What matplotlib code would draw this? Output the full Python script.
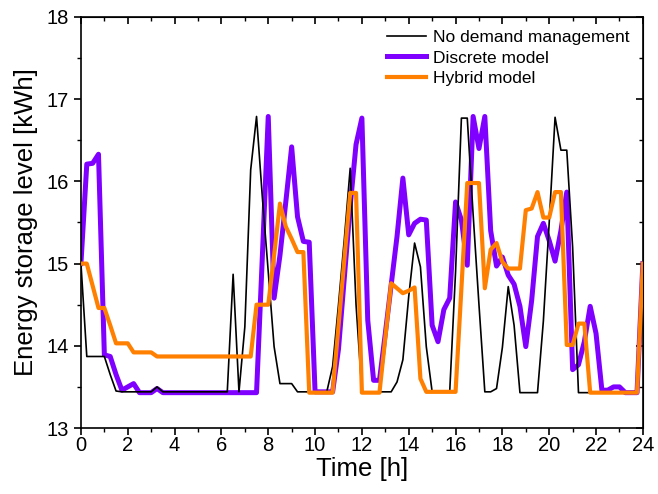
import numpy as np
import matplotlib
matplotlib.use("Agg")
import matplotlib.pyplot as plt
from matplotlib.ticker import MultipleLocator

# time axis: 15-minute steps over 24 h
time_h = np.arange(0, 24.001, 0.25)

no_dm = [
    15.00, 13.87, 13.87, 13.87, 13.87, 13.65, 13.45, 13.44,   # 0 - 1.75
    13.44, 13.44, 13.44, 13.44, 13.44, 13.50, 13.44, 13.44,   # 2 - 3.75
    13.44, 13.44, 13.44, 13.44, 13.44, 13.44, 13.44, 13.44,   # 4 - 5.75
    13.44, 13.44, 14.87, 13.44, 14.23, 16.14, 16.79, 15.80,   # 6 - 7.75
    14.90, 13.99, 13.54, 13.54, 13.54, 13.44, 13.44, 13.44,   # 8 - 9.75
    13.44, 13.44, 13.44, 13.75, 14.50, 15.30, 16.16, 14.50,   # 10 - 11.75
    13.44, 13.44, 13.44, 13.44, 13.44, 13.44, 13.56, 13.83,   # 12 - 13.75
    14.60, 15.25, 14.96, 13.99, 13.44, 13.44, 13.44, 13.44,   # 14 - 15.75
    14.90, 16.77, 16.77, 15.60, 14.50, 13.44, 13.44, 13.48,   # 16 - 17.75
    13.98, 14.72, 14.25, 13.43, 13.43, 13.43, 13.43, 14.30,   # 18 - 19.75
    15.50, 16.78, 16.38, 16.38, 15.20, 13.43, 13.43, 13.43,   # 20 - 21.75
    13.43, 13.43, 13.43, 13.43, 13.43, 13.43, 13.43, 13.43,   # 22 - 23.75
    15.00,
]

discrete = [
    15.00, 16.21, 16.22, 16.33, 13.89, 13.87, 13.65, 13.46,   # 0 - 1.75
    13.50, 13.54, 13.43, 13.43, 13.43, 13.48, 13.43, 13.43,   # 2 - 3.75
    13.43, 13.43, 13.43, 13.43, 13.43, 13.43, 13.43, 13.43,   # 4 - 5.75
    13.43, 13.43, 13.43, 13.43, 13.43, 13.43, 13.43, 15.10,   # 6 - 7.75
    16.79, 14.58, 15.10, 15.75, 16.42, 15.57, 15.27, 15.26,   # 8 - 9.75
    13.44, 13.44, 13.44, 13.44, 13.96, 14.83, 15.70, 16.45,   # 10 - 11.75
    16.77, 14.31, 13.58, 13.58, 14.15, 14.74, 15.33, 16.04,   # 12 - 13.75
    15.35, 15.49, 15.54, 15.53, 14.25, 14.05, 14.44, 14.58,   # 14 - 15.75
    15.75, 15.53, 14.98, 16.79, 16.40, 16.79, 15.40, 14.97,   # 16 - 17.75
    15.08, 14.86, 14.75, 14.48, 13.99, 14.55, 15.33, 15.49,   # 18 - 19.75
    15.28, 15.03, 15.40, 15.87, 13.71, 13.77, 14.05, 14.48,   # 20 - 21.75
    14.15, 13.46, 13.46, 13.50, 13.50, 13.43, 13.43, 13.43,   # 22 - 23.75
    15.00,
]

hybrid = [
    15.00, 15.00, 14.73, 14.46, 14.46, 14.25, 14.03, 14.03,   # 0 - 1.75
    14.03, 13.92, 13.92, 13.92, 13.92, 13.87, 13.87, 13.87,   # 2 - 3.75
    13.87, 13.87, 13.87, 13.87, 13.87, 13.87, 13.87, 13.87,   # 4 - 5.75
    13.87, 13.87, 13.87, 13.87, 13.87, 13.87, 14.50, 14.50,   # 6 - 7.75
    14.50, 15.10, 15.73, 15.45, 15.30, 15.14, 15.14, 13.43,   # 8 - 9.75
    13.43, 13.43, 13.43, 13.43, 14.24, 15.05, 15.86, 15.86,   # 10 - 11.75
    13.43, 13.43, 13.43, 13.43, 14.10, 14.76, 14.70, 14.64,   # 12 - 13.75
    14.67, 14.71, 13.60, 13.44, 13.44, 13.44, 13.44, 13.44,   # 14 - 15.75
    13.44, 14.70, 15.98, 15.98, 15.98, 14.70, 15.17, 15.25,   # 16 - 17.75
    15.02, 14.94, 14.94, 14.94, 15.65, 15.67, 15.87, 15.56,   # 18 - 19.75
    15.56, 15.87, 15.87, 14.01, 14.01, 14.27, 14.27, 13.43,   # 20 - 21.75
    13.43, 13.43, 13.43, 13.43, 13.43, 13.43, 13.43, 13.43,   # 22 - 23.75
    15.00,
]

labels = ["No demand management", "Discrete model", "Hybrid model"]
x_ticks = list(range(0, 25, 2))
y_ticks = [13, 14, 15, 16, 17, 18]

plt.rcParams['font.family'] = ['Liberation Sans', 'DejaVu Sans']

fig = plt.figure(figsize=(6.58, 4.94), dpi=100)
ax = fig.add_axes([0.123, 0.1336, 0.854, 0.832])

ax.plot(time_h, no_dm, color="black", lw=1.2, label=labels[0], zorder=3)
ax.plot(time_h, discrete, color="#8000FF", lw=3.6, label=labels[1], zorder=2)
ax.plot(time_h, hybrid, color="#FF8000", lw=3.0, label=labels[2], zorder=4)

ax.set_xlim(0, 24)
ax.set_ylim(13, 18)
ax.set_xticks(x_ticks)
ax.set_yticks(y_ticks)
ax.xaxis.set_minor_locator(MultipleLocator(1))
ax.yaxis.set_minor_locator(MultipleLocator(0.5))
ax.tick_params(which='major', direction='out', length=5, width=1.2, labelsize=14.5)
ax.tick_params(which='minor', direction='out', length=3, width=1.0)
ax.tick_params(axis='x', which='major', pad=1)

for s in ax.spines.values():
    s.set_linewidth(1.2)

secx = ax.secondary_xaxis('top')
secx.set_xticks(x_ticks)
secx.xaxis.set_minor_locator(MultipleLocator(1))
secx.tick_params(which='major', direction='in', length=5, width=1.2, labeltop=False)
secx.tick_params(which='minor', direction='in', length=3, width=1.0)
secy = ax.secondary_yaxis('right')
secy.set_yticks(y_ticks)
secy.yaxis.set_minor_locator(MultipleLocator(0.5))
secy.tick_params(which='major', direction='in', length=5, width=1.2, labelright=False)
secy.tick_params(which='minor', direction='in', length=3, width=1.0)

ax.set_xlabel("Time [h]", fontsize=18.5, labelpad=1)
ax.set_ylabel("Energy storage level [kWh]", fontsize=18.5, labelpad=6)

leg = ax.legend(loc='upper right', frameon=False, fontsize=12.5,
                handlelength=2.25, handletextpad=0.4, labelspacing=0.3,
                borderaxespad=0.25, borderpad=0.5)

fig.savefig("out.png", dpi=100)
